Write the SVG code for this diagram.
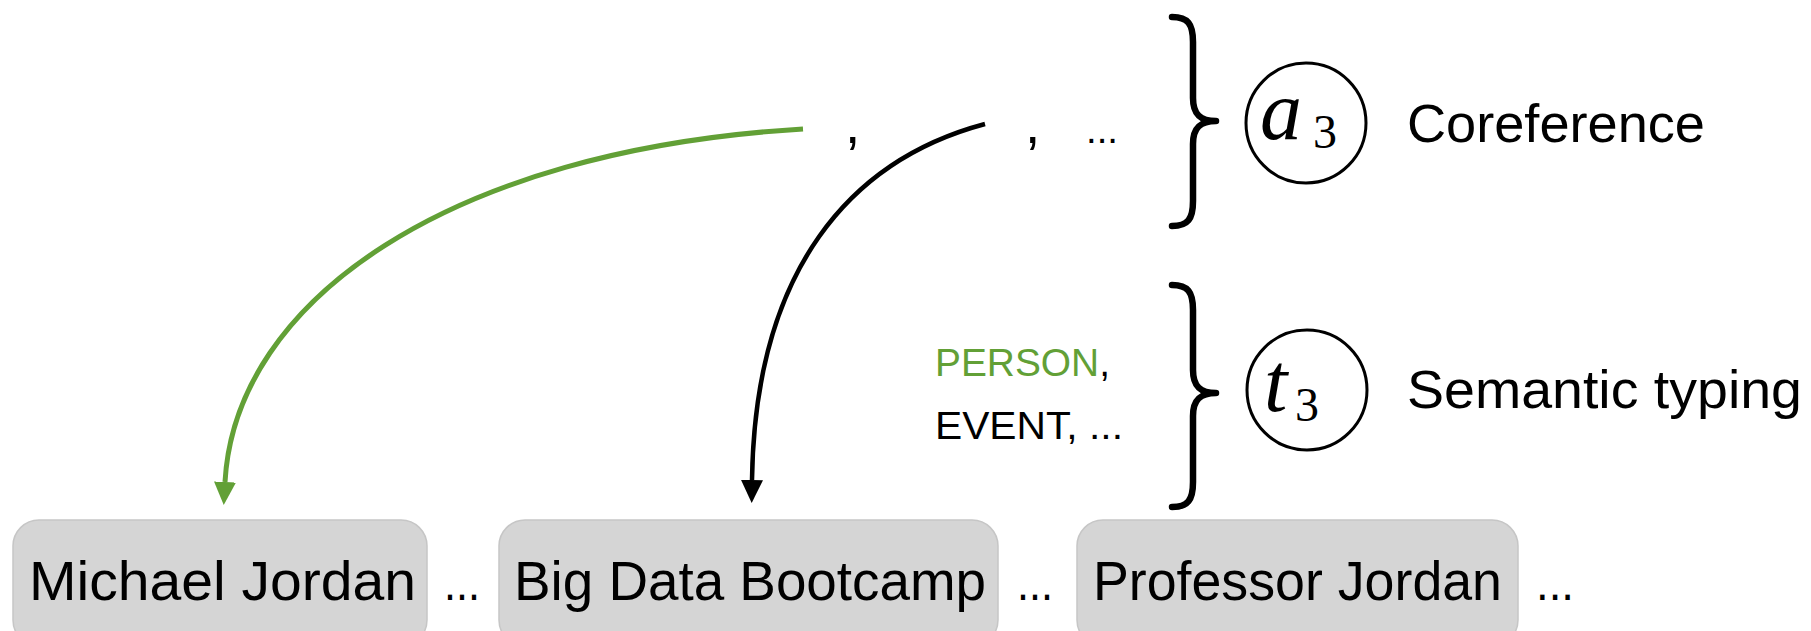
<svg xmlns="http://www.w3.org/2000/svg" width="1811" height="631" viewBox="0 0 1811 631">
<style>
.sans{font-family:"Liberation Sans",Arial,sans-serif;fill:#000}
.box{fill:#d5d5d5;stroke:#c6c6c6;stroke-width:1.5}
.lbl{font-size:56px}
.math{font-family:"Liberation Serif","Times New Roman",serif;font-style:italic;fill:#000}
.sub{font-family:"Liberation Serif","Times New Roman",serif;font-style:normal;fill:#000;font-size:48px}
.brace{fill:none;stroke:#000;stroke-width:6.5;stroke-linecap:round;stroke-linejoin:round}
.circ{fill:#fff;stroke:#000;stroke-width:3}
.green{fill:#62a036}
</style>
<defs>
<marker id="ah-green" markerUnits="userSpaceOnUse" markerWidth="24" markerHeight="24" refX="0" refY="11" orient="auto">
<path d="M0,0 L23,11 L0,22 z" fill="#62a036"/>
</marker>
<marker id="ah-black" markerUnits="userSpaceOnUse" markerWidth="24" markerHeight="24" refX="0" refY="11" orient="auto">
<path d="M0,0 L23,11 L0,22 z" fill="#000"/>
</marker>
</defs>
<rect width="1811" height="631" fill="#fff"/>

<g id="connectors">
<path d="M803,129 C450,150 235,300 225,482" fill="none" stroke="#62a036" stroke-width="5" marker-end="url(#ah-green)"/>
<path d="M985,124 C850,160 755,270 752,480" fill="none" stroke="#000" stroke-width="4.5" marker-end="url(#ah-black)"/>
</g>

<g id="mention-list">
<text class="sans" x="845" y="143" font-size="55">,</text>
<text class="sans" x="1025" y="143" font-size="55">,</text>
<text class="sans" x="1086" y="143" font-size="38" textLength="32" lengthAdjust="spacingAndGlyphs">...</text>
</g>

<g id="brace-coref">
<path class="brace" d="M1172,17 C1188,17 1193,24 1193,42 L1193,98 C1193,114 1200,121 1216,121 C1200,121 1193,128 1193,144 L1193,201 C1193,219 1188,226 1172,226"/>
</g>
<g id="node-a3">
<circle class="circ" cx="1306" cy="123" r="60"/>
<text class="math" x="1260" y="139" font-size="84">a</text>
<text class="sub" x="1313" y="148">3</text>
</g>
<g id="label-coref">
<text class="sans" x="1407" y="142" font-size="54" textLength="298" lengthAdjust="spacingAndGlyphs">Coreference</text>
</g>

<g id="type-list">
<text class="sans" x="935" y="376" font-size="39" textLength="175" lengthAdjust="spacingAndGlyphs"><tspan class="green">PERSON</tspan>,</text>
<text class="sans" x="935" y="439" font-size="39" textLength="188" lengthAdjust="spacingAndGlyphs">EVENT, ...</text>
</g>
<g id="brace-type">
<path class="brace" d="M1172,285 C1188,285 1193,292 1193,310 L1193,370 C1193,386 1200,393 1216,393 C1200,393 1193,400 1193,416 L1193,482 C1193,500 1188,507 1172,507"/>
</g>
<g id="node-t3">
<circle class="circ" cx="1307" cy="390" r="60"/>
<text class="math" x="1264" y="411" font-size="84">t</text>
<text class="sub" x="1295" y="421">3</text>
</g>
<g id="label-type">
<text class="sans" x="1407" y="408" font-size="54" textLength="395" lengthAdjust="spacingAndGlyphs">Semantic typing</text>
</g>

<g id="node-michael">
<rect class="box" x="13" y="520" width="414" height="126" rx="26"/>
<text class="sans lbl" x="29" y="600" textLength="387" lengthAdjust="spacingAndGlyphs">Michael Jordan</text>
</g>
<text class="sans" x="444" y="600" font-size="50" textLength="36" lengthAdjust="spacingAndGlyphs">...</text>
<g id="node-bigdata">
<rect class="box" x="499" y="520" width="499" height="126" rx="26"/>
<text class="sans lbl" x="514" y="600" textLength="472" lengthAdjust="spacingAndGlyphs">Big Data Bootcamp</text>
</g>
<text class="sans" x="1017" y="600" font-size="50" textLength="36" lengthAdjust="spacingAndGlyphs">...</text>
<g id="node-professor">
<rect class="box" x="1077" y="520" width="441" height="126" rx="26"/>
<text class="sans lbl" x="1093" y="600" textLength="409" lengthAdjust="spacingAndGlyphs">Professor Jordan</text>
</g>
<text class="sans" x="1536" y="600" font-size="50" textLength="38" lengthAdjust="spacingAndGlyphs">...</text>
</svg>
